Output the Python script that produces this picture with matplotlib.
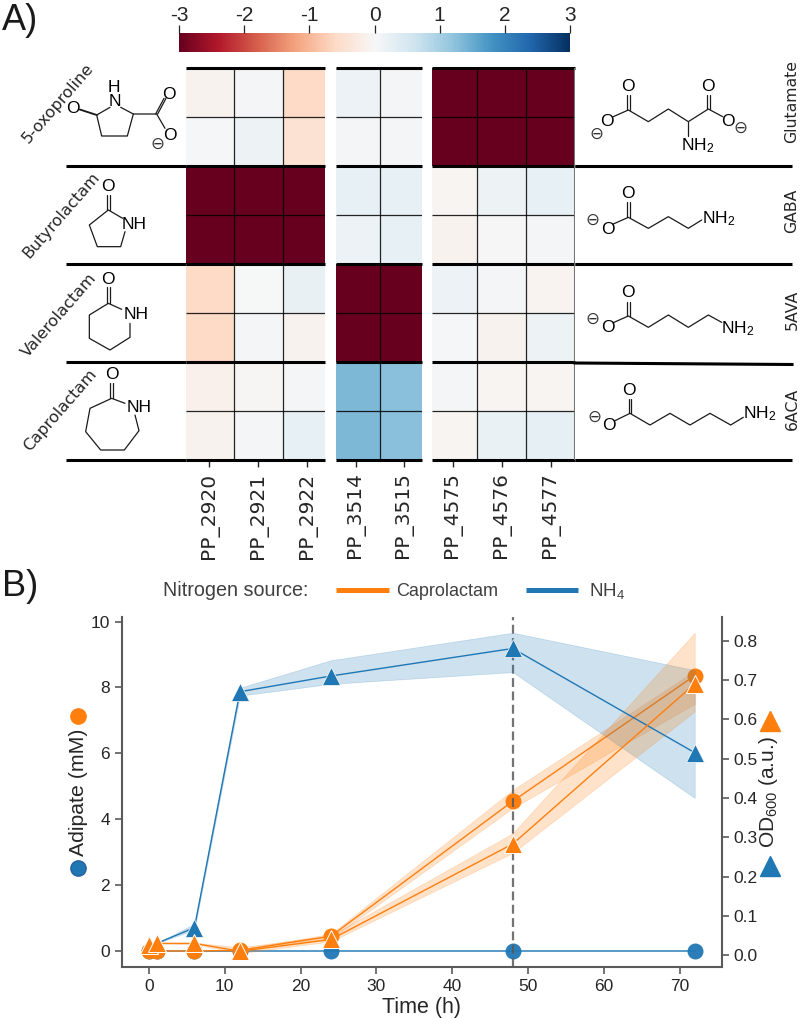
import matplotlib
matplotlib.use("Agg")
import matplotlib.pyplot as plt
import numpy as np
from matplotlib.cm import ScalarMappable
from matplotlib.colors import Normalize

plt.rcParams['font.family'] = ['Liberation Sans', 'DejaVu Sans']
plt.rcParams['mathtext.fontset'] = 'custom'
plt.rcParams['mathtext.rm'] = 'Liberation Sans'
plt.rcParams['mathtext.default'] = 'regular'

W, H = 800, 1018
ORANGE = '#ff7f0e'
BLUE = '#1f77b4'
GREY = '#5a5a5a'
DARK = '#262626'

# heatmap values, rows go top to bottom (two rows per substrate)
genes_a = ['PP_2920', 'PP_2921', 'PP_2922']
genes_b = ['PP_3514', 'PP_3515']
genes_c = ['PP_4575', 'PP_4576', 'PP_4577']
heat_a = [[-0.10, 0.05, -0.60], [0.03, 0.15, -0.45], [-3, -3, -3], [-3, -3, -3],
          [-0.60, 0.00, 0.22], [-0.60, 0.05, -0.10], [-0.15, -0.03, 0.05], [-0.10, 0.05, 0.25]]
heat_b = [[0.18, 0.05], [0.05, 0.05], [0.25, 0.25], [0.18, 0.25],
          [-3, -3], [-3, -3], [1.35, 1.25], [1.35, 1.25]]
heat_c = [[-3, -3, -3], [-3, -3, -3], [-0.05, 0.15, 0.25], [-0.10, -0.02, 0.05],
          [0.18, 0.05, -0.08], [0.03, -0.10, 0.15], [0.07, -0.05, -0.07], [-0.05, 0.20, 0.28]]

# growth curves
time_h = [0, 1, 6, 12, 24, 48, 72]
adipate_nh4 = [0, 0, 0, 0, 0, 0, 0]
adipate_cap = [0, 0, 0, 0.02, 0.45, 4.55, 8.36]
adipate_cap_lo = [0, 0, 0, 0.0, 0.38, 4.34, 7.50]
adipate_cap_hi = [0, 0, 0, 0.05, 0.52, 4.89, 8.50]
od_nh4 = [0.025, 0.03, 0.07, 0.67, 0.71, 0.78, 0.515]
od_nh4_lo = [0.025, 0.03, 0.065, 0.66, 0.69, 0.72, 0.40]
od_nh4_hi = [0.025, 0.03, 0.08, 0.68, 0.75, 0.82, 0.725]
od_cap = [0.025, 0.03, 0.03, 0.01, 0.04, 0.283, 0.69]
od_cap_lo = [0.025, 0.03, 0.028, 0.005, 0.035, 0.26, 0.62]
od_cap_hi = [0.025, 0.03, 0.032, 0.02, 0.05, 0.31, 0.82]


def px_axes(fig, x0, y0, x1, y1, **kw):
    return fig.add_axes([x0 / W, 1 - y1 / H, (x1 - x0) / W, (y1 - y0) / H], **kw)


def draw_heat(fig, data, genes, x0, x1, xlim):
    ax = px_axes(fig, x0, 68, x1, 460)
    arr = np.array(data)
    ax.pcolormesh(np.arange(arr.shape[1] + 1), np.arange(9), arr, cmap='RdBu', vmin=-3, vmax=3)
    ax.set_xlim(*xlim)
    ax.set_ylim(8, 0)
    for s in ax.spines.values():
        s.set_visible(False)
    ax.set_yticks([])
    ax.set_xticks(np.arange(len(genes)) + 0.5)
    ax.set_xticklabels(genes, rotation=90, family=['DejaVu Sans'], fontsize=14.5, color=DARK)
    ax.tick_params(axis='x', length=5, width=1, pad=4, color=DARK)
    ax.vlines(np.arange(1, len(genes)), 0, 8, color='k', lw=0.9, alpha=0.85)
    ax.hlines([1, 3, 5, 7], *xlim, color='k', lw=0.9, alpha=0.85)
    ax.hlines([0, 2, 4, 6, 8], *xlim, color='k', lw=2.2, clip_on=False)
    return ax


def bonds(ov, pts, dx=0, dy=0):
    xs = [(p[0] + dx) / 3 for p in pts]
    ys = [(p[1] + dy) / 3 for p in pts]
    ov.plot(xs, ys, color='#1a1a1a', lw=0.9, solid_capstyle='round')


def double(ov, p, q, dx=0, dy=0, off=4):
    for o in (-off, off):
        bonds(ov, [(p[0] + o, p[1]), (q[0] + o, q[1])], dx, dy)


def atom(ov, x, y, s, dx=0, dy=0, size=12.5):
    ov.text((x + dx) / 3, (y + dy) / 3, s, ha='center', va='center', fontsize=size, color='k')


def minus(ov, x, y, dx=0, dy=0):
    ov.text((x + dx) / 3, (y + dy) / 3, '\u2296', ha='center', va='center', fontsize=12,
            color='#333333', family=['DejaVu Sans'])


fig = plt.figure(figsize=(W / 100, H / 100), dpi=100)

# panel A
draw_heat(fig, heat_a, genes_a, 186, 325, (0.03, 2.867))
draw_heat(fig, heat_b, genes_b, 336, 422, (0.09, 1.88))
ax_c = draw_heat(fig, heat_c, genes_c, 432, 575, (0.07, 3.0))
ax_c.vlines([3.0], 0, 8, color='#777777', lw=1.5)

cax = px_axes(fig, 179, 33, 570, 52)
cb = fig.colorbar(ScalarMappable(Normalize(-3, 3), 'RdBu'), cax=cax, orientation='horizontal')
cb.outline.set_visible(False)
cb.set_ticks([-3, -2, -1, 0, 1, 2, 3])
cb.set_ticklabels(['-3', '-2', '-1', '0', '1', '2', '3'])
cax.xaxis.set_ticks_position('top')
cax.tick_params(length=6, width=0.9, labelsize=15, pad=0, color=DARK, labelcolor=DARK)

# panel B
ax = px_axes(fig, 122, 617, 722, 967)
ax.set_xlim(-3.56, 75.6)
ax.set_ylim(-0.486, 10.14)
ax.plot(time_h, adipate_nh4, color=BLUE, lw=1.1, marker='o', ms=11.5, mec='none', alpha=0.95)
ax.fill_between(time_h, adipate_cap_lo, adipate_cap_hi, color=ORANGE, alpha=0.22, lw=0.5)
ax.plot(time_h, adipate_cap, color=ORANGE, lw=1.0, marker='o', ms=11.5, mec='none')
ax.axvline(48, color=GREY, lw=1.6, ls=(0, (4, 2)), alpha=0.85)
ax.set_xticks(range(0, 71, 10))
ax.set_yticks([0, 2, 4, 6, 8, 10])
ax.set_xlabel('Time (h)', fontsize=15.5, color=DARK, labelpad=2)

ax2 = ax.twinx()
ax2.set_ylim(-0.03, 0.86)
ax2.fill_between(time_h, od_nh4_lo, od_nh4_hi, color=BLUE, alpha=0.22, lw=0.5)
ax2.plot(time_h, od_nh4, color=BLUE, lw=1.0, marker='^', ms=13, mec='white', mew=0.5)
ax2.fill_between(time_h, od_cap_lo, od_cap_hi, color=ORANGE, alpha=0.22, lw=0.5)
ax2.plot(time_h, od_cap, color=ORANGE, lw=1.0, marker='^', ms=13, mec='white', mew=0.7)
ax2.set_yticks(np.arange(0, 0.81, 0.1))

for a in (ax, ax2):
    a.spines['top'].set_visible(False)
    for s in a.spines.values():
        s.set_color(GREY)
        s.set_linewidth(1.5)
    a.tick_params(length=5, width=1.2, color=GREY, labelsize=12.5, labelcolor=DARK)
ax.spines['right'].set_visible(False)
ax2.spines['left'].set_visible(False)
ax2.spines['bottom'].set_visible(False)

# overlay in pixel coordinates for the annotations and structures
ov = fig.add_axes([0, 0, 1, 1], zorder=10)
ov.set_xlim(0, W)
ov.set_ylim(H, 0)
ov.axis('off')
ov.patch.set_alpha(0)

ov.text(2, 20, 'A)', fontsize=26, va='center', color='#1a1a1a')
ov.text(2, 586, 'B)', fontsize=26, va='center', color='#1a1a1a')

# separators left and right of the heatmaps
ov.hlines([166, 264, 362, 460], 66, 186, color='k', lw=2.2)
ov.hlines([166, 264, 460], 575, 792, color='k', lw=2.2)
ov.plot([575, 792], [363, 364.5], color='k', lw=2.2)

row_labels = ['5-oxoproline', 'Butyrolactam', 'Valerolactam', 'Caprolactam']
row_xy = [(58, 103), (61, 215), (59, 315), (60, 410)]
for s, (x, y) in zip(row_labels, row_xy):
    ov.text(x, y, s, rotation=49, ha='center', va='center', fontsize=11.6, color=DARK,
            family=['DejaVu Sans'], rotation_mode='anchor')

right_labels = ['Glutamate', 'GABA', '5AVA', '6ACA']
right_y = [101, 211, 310, 409]
for s, y in zip(right_labels, right_y):
    ov.text(792, y, s, rotation=90, ha='center', va='center', fontsize=11.3, color=DARK,
            family=['DejaVu Sans'])

# 5-oxoproline
bonds(ov, [(330, 322), (290, 345), (305, 408), (382, 408), (400, 342), (362, 322)])
double(ov, (290, 345), (238, 328), off=3)
bonds(ov, [(400, 342), (470, 342), (495, 385)])
double(ov, (470, 342), (495, 295), off=3)
atom(ov, 218, 326, 'O')
atom(ov, 345, 305, 'N')
atom(ov, 343, 262, 'H')
atom(ov, 507, 282, 'O')
atom(ov, 510, 405, 'O')
minus(ov, 472, 433)

# butyrolactam
bonds(ov, [(368, 655), (325, 630), (268, 675), (292, 740), (362, 740), (375, 695)])
double(ov, (325, 630), (325, 585))
atom(ov, 323, 560, 'O')
atom(ov, 402, 672, 'NH')

# valerolactam
dy = 780
bonds(ov, [(365, 148), (325, 130), (268, 165), (268, 235), (330, 270), (390, 232), (390, 190)], dy=dy)
double(ov, (325, 130), (325, 80), dy=dy)
atom(ov, 325, 58, 'O', dy=dy)
atom(ov, 408, 163, 'NH', dy=dy)

# caprolactam
bonds(ov, [(375, 430), (335, 415), (270, 445), (257, 515), (302, 570), (373, 570), (417, 512), (405, 465)], dy=dy)
double(ov, (335, 415), (335, 368), dy=dy)
atom(ov, 335, 343, 'O', dy=dy)
atom(ov, 418, 443, 'NH', dy=dy)

# glutamate
dx = 1200
bonds(ov, [(640, 350), (685, 330), (745, 365), (805, 327), (865, 365), (925, 327), (968, 350)], dx=dx)
bonds(ov, [(865, 365), (865, 408)], dx=dx)
double(ov, (685, 330), (685, 285), dx=dx)
double(ov, (925, 327), (925, 285), dx=dx)
atom(ov, 685, 260, 'O', dx=dx)
atom(ov, 925, 260, 'O', dx=dx)
atom(ov, 622, 365, 'O', dx=dx)
atom(ov, 985, 365, 'O', dx=dx)
atom(ov, 893, 438, 'NH$_2$', dx=dx)
minus(ov, 590, 402, dx=dx)
minus(ov, 1022, 385, dx=dx)

# GABA
bonds(ov, [(640, 672), (685, 652), (745, 685), (805, 650), (865, 685), (905, 660)], dx=dx)
double(ov, (685, 652), (685, 607), dx=dx)
atom(ov, 685, 580, 'O', dx=dx)
atom(ov, 625, 687, 'O', dx=dx)
atom(ov, 955, 655, 'NH$_2$', dx=dx)
minus(ov, 577, 660, dx=dx)

# 5AVA
bonds(ov, [(640, 188), (685, 168), (745, 202), (805, 165), (865, 202), (925, 165), (965, 187)], dx=dx, dy=dy)
double(ov, (685, 168), (685, 125), dx=dx, dy=dy)
atom(ov, 683, 98, 'O', dx=dx, dy=dy)
atom(ov, 623, 203, 'O', dx=dx, dy=dy)
atom(ov, 1012, 205, 'NH$_2$', dx=dx, dy=dy)
minus(ov, 577, 178, dx=dx, dy=dy)

# 6ACA
bonds(ov, [(645, 482), (690, 460), (750, 495), (810, 460), (870, 495), (930, 460), (992, 495), (1030, 472)], dx=dx, dy=dy)
double(ov, (690, 460), (690, 418), dx=dx, dy=dy)
atom(ov, 688, 392, 'O', dx=dx, dy=dy)
atom(ov, 628, 495, 'O', dx=dx, dy=dy)
atom(ov, 1078, 462, 'NH$_2$', dx=dx, dy=dy)
minus(ov, 582, 472, dx=dx, dy=dy)

# legend of panel B
ov.text(163, 590, 'Nitrogen source:', fontsize=14.2, va='center', color='#404040')
ov.plot([336, 389], [590, 590], color=ORANGE, lw=3.6, solid_capstyle='butt')
ov.text(396, 591, 'Caprolactam', fontsize=13, va='center', color='#404040')
ov.plot([526, 578], [590, 590], color=BLUE, lw=3.6, solid_capstyle='butt')
ov.text(589, 591, 'NH$_4$', fontsize=13.5, va='center', color='#404040')

# axis labels with their marker keys
ov.text(78, 792, 'Adipate (mM)', rotation=90, fontsize=15.3, ha='center', va='center', color=DARK)
ov.plot([78], [716], 'o', color=ORANGE, ms=11)
ov.plot([78], [868], 'o', color=BLUE, ms=11, mec='#2a5f9e', mew=1)
ov.text(769, 792, 'OD$_{600}$ (a.u.)', rotation=90, fontsize=15, ha='center', va='center', color=DARK)
ov.plot([770], [721], '^', color=ORANGE, ms=14)
ov.plot([770], [866], '^', color=BLUE, ms=14)

fig.savefig('out.png', dpi=100)
